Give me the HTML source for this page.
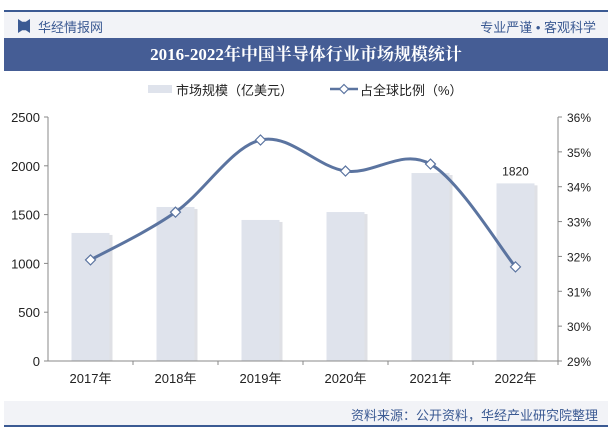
<!DOCTYPE html>
<html><head><meta charset="utf-8">
<style>
body{margin:0;width:612px;height:433px;background:#fff;overflow:hidden;font-family:"Liberation Sans","Noto Sans CJK SC",sans-serif;position:relative}
.abs{position:absolute}
</style></head><body>
<div class="abs" style="left:4px;top:10px;width:604px;height:2px;background:#3b5a93"></div>
<div class="abs" style="left:4px;top:12px;width:604px;height:26px;background:#f2f3f7"></div>
<div class="abs" style="left:18px;top:19px;width:12px;height:14px;background:#3b5a93;clip-path:polygon(0 0,35% 20%,65% 20%,100% 0,100% 100%,65% 80%,35% 80%,0 100%)"></div>
<div class="abs" style="left:38px;top:17px;font-size:13px;color:#3b5a93">华经情报网</div>
<div class="abs" style="right:16px;top:17px;font-size:13px;color:#3b5a93">专业严谨 • 客观科学</div>
<div class="abs" style="left:4px;top:38px;width:604px;height:33px;background:#455d95;color:#fff;text-align:center;font:bold 17px/33px 'Liberation Serif','Noto Serif CJK SC',serif">2016-2022年中国半导体行业市场规模统计</div>
<div class="abs" style="left:148px;top:85px;width:24px;height:8px;background:#dfe3ec"></div>
<div class="abs" style="left:176px;top:80px;font-size:13px;color:#222">市场规模（亿美元）</div>
<svg class="abs" style="left:330px;top:82px" width="28" height="14"><line x1="0" y1="7" x2="28" y2="7" stroke="#5b74a0" stroke-width="2.5"/><path d="M14 2.5L18.5 7L14 11.5L9.5 7Z" fill="#fff" stroke="#5b74a0" stroke-width="1.2"/></svg>
<div class="abs" style="left:360px;top:80px;font-size:13px;color:#222">占全球比例（%）</div>
<svg id="chart" class="abs" style="left:0;top:0" width="612" height="433"></svg>
<div class="abs" style="left:4px;top:401px;width:604px;height:24px;background:#f2f3f7"></div>
<div class="abs" style="left:4px;top:425px;width:604px;height:2px;background:#3b5a93"></div>
<div class="abs" style="right:14px;top:405px;font-size:13px;color:#3b5a93">资料来源：公开资料，华经产业研究院整理</div>
<script>
const categories=["2017年","2018年","2019年","2020年","2021年","2022年"];
const marketSize=[1312,1578,1445,1526,1926,1820];
const globalShare=[31.9,33.27,35.34,34.45,34.65,31.7];
const leftTicks=[0,500,1000,1500,2000,2500];
const rightTicks=[29,30,31,32,33,34,35,36];
const svg=document.getElementById('chart');const NS='http://www.w3.org/2000/svg';
function mk(t,a,p){const e=document.createElementNS(NS,t);for(const k in a)e.setAttribute(k,a[k]);(p||svg).appendChild(e);return e;}
const X0=48,X1=558,Y0=361,Y1=117;
const band=(X1-X0)/categories.length;
const xc=i=>X0+band*(i+0.5);
const yL=v=>Y0-(v-0)/(2500-0)*(Y0-Y1);
const yR=v=>Y0-(v-29)/(36-29)*(Y0-Y1);
marketSize.forEach((v,i)=>{const w=38,x=xc(i)-w/2;
const s=mk('rect',{x:x+3,y:yL(v)+2,width:w,height:Y0-yL(v)-2,fill:'#c9ccd3',opacity:0.6});

const r=mk('rect',{x:x,y:yL(v),width:w,height:Y0-yL(v),fill:'#dfe3ec'});
});
const ax=mk('path',{d:`M${X0} ${Y1}V${Y0}H${X1}V${Y1}`,fill:'none',stroke:'#888',"stroke-width":1});

leftTicks.forEach(t=>{const y=yL(t);mk('line',{x1:X0-4,y1:y,x2:X0,y2:y,stroke:'#888'});
const tx=mk('text',{x:X0-8,y:y+5,"text-anchor":'end',"font-size":13,fill:'#222'});tx.textContent=t;
});
rightTicks.forEach(t=>{const y=yR(t);mk('line',{x1:X1,y1:y,x2:X1+4,y2:y,stroke:'#888'});
const tx=mk('text',{x:X1+9,y:y+5,"font-size":12,fill:'#222'});tx.textContent=t+'%';
});
categories.forEach((c,i)=>{mk('line',{x1:X0+band*(i+1),y1:Y0,x2:X0+band*(i+1),y2:Y0+4,stroke:'#888'});
const tx=mk('text',{x:xc(i),y:Y0+22,"text-anchor":'middle',"font-size":13,fill:'#222'});tx.textContent=c;
});
const pts=globalShare.map((v,i)=>[xc(i),yR(v)]);
let d=`M${pts[0][0]} ${pts[0][1]}`;
for(let i=0;i<pts.length-1;i++){const p0=pts[Math.max(i-1,0)],p1=pts[i],p2=pts[i+1],p3=pts[Math.min(i+2,pts.length-1)];const k=0.17;
d+=`C${p1[0]+(p2[0]-p0[0])*k} ${p1[1]+(p2[1]-p0[1])*k} ${p2[0]-(p3[0]-p1[0])*k} ${p2[1]-(p3[1]-p1[1])*k} ${p2[0]} ${p2[1]}`;}
const ln=mk('path',{d:d,fill:'none',stroke:'#5b74a0',"stroke-width":3});

pts.forEach((p,i)=>{const m=mk('path',{d:`M${p[0]} ${p[1]-5}L${p[0]+5} ${p[1]}L${p[0]} ${p[1]+5}L${p[0]-5} ${p[1]}Z`,fill:'#fff',stroke:'#5b74a0',"stroke-width":1.2});
});
const last=marketSize.length-1;
const lb=mk('text',{x:xc(last),y:yL(marketSize[last])-8,"text-anchor":'middle',"font-size":12,fill:'#222'});lb.textContent=marketSize[last];

</script>
</body></html>
